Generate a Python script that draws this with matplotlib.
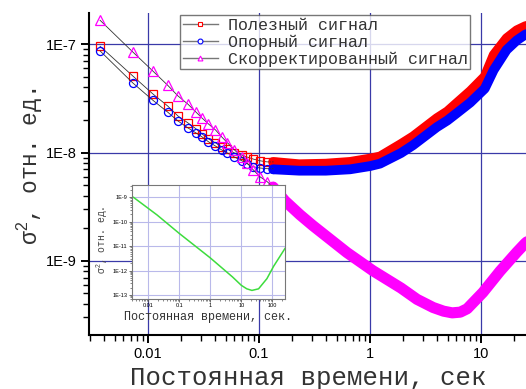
import math
import matplotlib
matplotlib.use("Agg")
import matplotlib.pyplot as plt
from matplotlib.lines import Line2D
from matplotlib.ticker import LogLocator, FixedLocator, FuncFormatter, NullFormatter

plt.rcParams['mathtext.fontset'] = 'custom'
plt.rcParams['mathtext.rm'] = 'Liberation Sans'
plt.rcParams['mathtext.it'] = 'Liberation Sans'
plt.rcParams['mathtext.bf'] = 'Liberation Sans:bold'

# ---- data ----
tau_sparse = [0.0037, 0.0073, 0.011, 0.015, 0.0186, 0.0229, 0.027, 0.0306, 0.035,
              0.0405, 0.046, 0.052, 0.060, 0.070, 0.078, 0.089, 0.102, 0.118, 0.134]
useful_sparse = [9.6e-8, 5.1e-8, 3.5e-8, 2.7e-8, 2.18e-8, 1.88e-8, 1.66e-8, 1.49e-8, 1.34e-8,
                 1.23e-8, 1.13e-8, 1.08e-8, 9.9e-9, 9.5e-9, 9.1e-9, 8.7e-9, 8.4e-9, 8.2e-9, 8.2e-9]
ref_sparse = [8.7e-8, 4.4e-8, 3.06e-8, 2.37e-8, 1.96e-8, 1.69e-8, 1.52e-8, 1.40e-8, 1.26e-8,
              1.15e-8, 1.06e-8, 9.9e-9, 9.1e-9, 8.4e-9, 7.9e-9, 7.4e-9, 7.2e-9, 7.1e-9, 7.1e-9]
corr_sparse = [1.67e-7, 8.5e-8, 5.7e-8, 4.2e-8, 3.34e-8, 2.8e-8, 2.37e-8, 2.09e-8, 1.84e-8,
               1.62e-8, 1.40e-8, 1.23e-8, 1.06e-8, 9.1e-9, 8.0e-9, 6.9e-9, 5.97e-9, 5.4e-9, 4.8e-9]

tau_band_rb = [0.134, 0.23, 0.4, 0.66, 1.0, 1.23, 1.9, 2.44, 4.0, 4.97, 6.0, 8.0, 10.8,
               13.0, 17.0, 21.0, 25.0, 30.0]
useful_band = [8.2e-9, 7.8e-9, 7.9e-9, 8.2e-9, 8.8e-9, 9.2e-9, 1.2e-8, 1.41e-8, 2.08e-8,
               2.4e-8, 2.85e-8, 3.7e-8, 5.05e-8, 8.0e-8, 1.14e-7, 1.35e-7, 1.47e-7, 1.55e-7]
ref_band = [7.0e-9, 6.8e-9, 6.8e-9, 7.0e-9, 7.5e-9, 7.9e-9, 9.9e-9, 1.17e-8, 1.72e-8,
            1.98e-8, 2.3e-8, 2.9e-8, 3.9e-8, 5.8e-8, 8.9e-8, 1.09e-7, 1.23e-7, 1.32e-7]

tau_band_c = [0.134, 0.171, 0.234, 0.306, 0.62, 1.06, 1.9, 2.65, 3.7, 4.6, 5.5, 6.5, 7.5,
              10.4, 14.8, 21.0, 25.0, 30.0]
corr_band = [4.8e-9, 3.58e-9, 2.66e-9, 2.11e-9, 1.19e-9, 8.1e-10, 5.6e-10, 4.4e-10, 3.7e-10,
             3.42e-10, 3.3e-10, 3.35e-10, 3.6e-10, 5.1e-10, 8.0e-10, 1.2e-9, 1.45e-9, 1.7e-9]

inset_tau = [0.0033, 0.019, 0.1, 1.0, 5.2, 10.0, 15.0, 22.0, 36.0, 67.0, 110.0, 257.0]
inset_val = [1e-9, 1.9e-10, 3.3e-11, 3.3e-12, 5.5e-13, 2.5e-13, 1.8e-13, 1.55e-13, 1.8e-13,
             4.7e-13, 1.5e-12, 8.1e-12]

labels = ['Полезный сигнал', 'Опорный сигнал', 'Скорректированный сигнал']
xlabel = 'Постоянная времени, сек'
inset_xlabel = 'Постоянная времени, сек.'
ylabel = r'$\mathrm{\sigma}^2$, отн. ед.'

W, H = 526, 389
fig = plt.figure(figsize=(W / 100, H / 100), dpi=100)
fig.patch.set_facecolor('white')


def exp_fmt(v, p):
    return '1E%d' % round(math.log10(v))


def dec_fmt(v, p):
    return {0.01: '0.01', 0.1: '0.1', 1: '1', 10: '10', 100: '100'}.get(round(v, 3), '')


# main axes
ax = fig.add_axes([89 / W, 1 - 335 / H, (534 - 89) / W, (335 - 13) / H])
ax.set_xscale('log')
ax.set_yscale('log')
ax.set_xlim(0.00294, 30.0)
ax.set_ylim(2.06e-10, 1.95e-7)
for s in ['top', 'right']:
    ax.spines[s].set_visible(False)
for s in ['left', 'bottom']:
    ax.spines[s].set_linewidth(1.5)
    ax.spines[s].set_color('black')

ax.xaxis.set_major_locator(FixedLocator([0.01, 0.1, 1, 10]))
ax.xaxis.set_minor_locator(LogLocator(base=10, subs=range(2, 10), numticks=20))
ax.xaxis.set_minor_formatter(NullFormatter())
ax.xaxis.set_major_formatter(FuncFormatter(dec_fmt))
ax.yaxis.set_major_locator(FixedLocator([1e-9, 1e-8, 1e-7]))
ax.yaxis.set_minor_locator(LogLocator(base=10, subs=range(2, 10), numticks=20))
ax.yaxis.set_minor_formatter(NullFormatter())
ax.yaxis.set_major_formatter(FuncFormatter(exp_fmt))
ax.tick_params(which='major', direction='out', length=6, width=1.4, labelsize=10.5, pad=3)
ax.tick_params(which='minor', direction='out', length=4, width=1.0)
for lab in ax.get_xticklabels() + ax.get_yticklabels():
    lab.set_fontfamily('Liberation Sans')
ax.grid(True, which='major', color='#3a3aa8', lw=0.9)
ax.set_axisbelow(True)

colors = ['red', 'blue', 'magenta']
markers = ['s', 'o', '^']
msizes = [5.6, 5.8, 7.6]
sparse = [useful_sparse, ref_sparse, corr_sparse]
bands = [(tau_band_rb, useful_band), (tau_band_rb, ref_band), (tau_band_c, corr_band)]
bw = [7.0, 7.0, 8.0]
for i in range(3):
    ax.plot(bands[i][0], bands[i][1], color=colors[i], lw=bw[i], solid_capstyle='round',
            solid_joinstyle='round', zorder=3 + i)
    ax.plot(tau_sparse, sparse[i], color='#333333', lw=0.6, zorder=3 + i)
    ax.plot(tau_sparse, sparse[i], ls='none', marker=markers[i], ms=msizes[i], mfc='none',
            mec=colors[i], mew=0.9, zorder=3 + i)

# legend
handles = [Line2D([], [], color='#777777', lw=1.0, marker=markers[i], ms=3.5, mfc='white',
                  mec=colors[i], mew=0.8) for i in range(3)]
leg = fig.legend(handles, labels, loc='upper left', bbox_to_anchor=(180 / W, 1 - 15 / H),
                 bbox_transform=fig.transFigure, borderaxespad=0, frameon=True, fancybox=False,
                 prop={'family': 'Liberation Mono', 'size': 12}, handlelength=2.1,
                 handletextpad=0.6, labelspacing=0.12, borderpad=0.15)
leg.get_frame().set_edgecolor('#555555')
leg.get_frame().set_linewidth(1.0)
for t in leg.get_texts():
    t.set_color('#333333')
leg.set_zorder(20)

# labels
fig.text(308 / W, 1 - 378 / H, xlabel, ha='center', va='center', fontsize=18.5,
         family='Liberation Mono', color='#333333')
fig.text(30 / W, 1 - 166 / H, ylabel, ha='center', va='center', rotation=90, fontsize=16.5,
         family='Liberation Mono', color='#333333')

# inset
ia = fig.add_axes([132 / W, 1 - 299 / H, (285 - 132) / W, (299 - 185) / H], zorder=10)
ia.set_facecolor('white')
ia.set_xscale('log')
ia.set_yscale('log')
ia.set_xlim(0.00295, 257)
ia.set_ylim(6.9e-14, 3.2e-9)
ia.plot(inset_tau, inset_val, color='#3ddc3d', lw=1.1)
ia.xaxis.set_major_locator(FixedLocator([0.01, 0.1, 1, 10, 100]))
ia.xaxis.set_minor_locator(LogLocator(base=10, subs=range(2, 10), numticks=20))
ia.xaxis.set_minor_formatter(NullFormatter())
ia.xaxis.set_major_formatter(FuncFormatter(dec_fmt))
ia.yaxis.set_major_locator(FixedLocator([1e-13, 1e-12, 1e-11, 1e-10, 1e-9]))
ia.yaxis.set_minor_locator(LogLocator(base=10, subs=range(2, 10), numticks=20))
ia.yaxis.set_minor_formatter(NullFormatter())
ia.yaxis.set_major_formatter(FuncFormatter(exp_fmt))
ia.tick_params(which='major', direction='out', length=2.0, width=0.6, labelsize=4.0, pad=1.2,
               color='#555555')
ia.tick_params(which='minor', direction='out', length=1.2, width=0.5, color='#555555')
for lab in ia.get_xticklabels() + ia.get_yticklabels():
    lab.set_fontfamily('Liberation Sans')
for s in ia.spines.values():
    s.set_color('#777777')
    s.set_linewidth(0.8)
ia.grid(True, which='major', color='#b9b9ea', lw=0.8)
ia.set_axisbelow(True)
fig.text(208 / W, 1 - 317 / H, inset_xlabel, ha='center', va='center', fontsize=8.5,
         family='Liberation Mono', color='#333333', zorder=11)
fig.text(102 / W, 1 - 240 / H, ylabel, ha='center', va='center', rotation=90, fontsize=7.0,
         family='Liberation Mono', color='#444444', zorder=11)

fig.savefig('out.png', dpi=100)
